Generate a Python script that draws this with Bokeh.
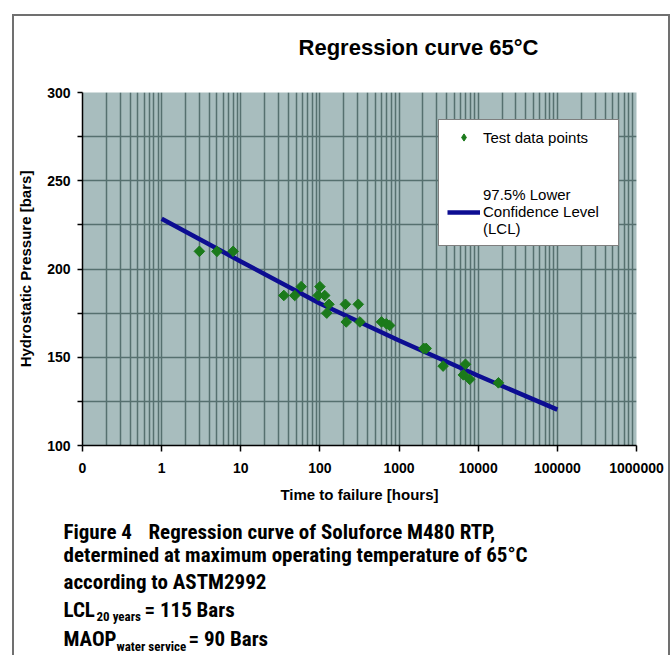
from bokeh.plotting import figure
from bokeh.layouts import column
from bokeh.models import Range1d, FixedTicker, Legend, LegendItem
from bokeh.core.properties import value
from bokeh.embed import file_html
from bokeh.resources import INLINE

# ---------------- data ----------------
test_hours = [3, 5, 8, 35, 48, 58, 95, 100, 115, 122, 130, 210, 215, 305, 320,
              600, 690, 760, 2050, 2200, 3600, 6500, 6900, 7800, 18000]
test_pressure = [210, 210, 210, 185, 185, 190, 185, 190, 185, 175, 180, 180, 170, 180, 170,
                 170, 169, 168, 155, 155, 145, 140, 146, 137.5, 135.5]

lcl_hours = [1, 10, 100, 1000, 10000, 100000]
lcl_pressure = [228.5, 204.3, 180.5, 159.5, 139.5, 120.3]

x_ticks = [0.1, 1, 10, 100, 1000, 10000, 100000, 1000000]
x_tick_labels = ["0", "1", "10", "100", "1000", "10000", "100000", "1000000"]
y_ticks = [100, 150, 200, 250, 300]
y_minor_ticks = [125, 175, 225, 275]

title_text = "Regression curve 65°C"
x_title = "Time to failure [hours]"
y_title = "Hydrostatic Pressure [bars]"
legend_labels = ["Test data points", "97.5% Lower\nConfidence Level\n(LCL)"]

# caption texts and their placement in the caption panel (pixels)
caption_x = [49, 134, 49, 49, 49, 82, 130, 49, 102, 174]
caption_y = [16, 16, 39, 66, 94, 101, 94, 123, 131, 123]
caption_text = ["Figure 4", "Regression curve of Soluforce M480 RTP,",
                "determined at maximum operating temperature of 65°C",
                "according to ASTM2992",
                "LCL", "20 years", "= 115 Bars",
                "MAOP", "water service", "= 90 Bars"]
caption_size = ["21px", "21px", "21px", "21px", "21px", "13px", "21px", "21px", "13px", "21px"]

# minor log ticks 2..9 in every decade
x_minor_ticks = []
for t in x_ticks[:-1]:
    for m in range(2, 10):
        x_minor_ticks.append(round(m * t, 6))

FONT = "Liberation Sans"
NARROW = "Roboto Condensed, DejaVu Sans Condensed, Liberation Sans"
GRID = "#56706f"
GREEN = "#1b7a1b"
W = 654

# ---- title panel ----
tfig = figure(width=W, height=50, x_range=Range1d(0, W), y_range=Range1d(50, 0),
              output_backend="svg", toolbar_location=None, frame_align=False,
              min_border=0, x_axis_location=None, y_axis_location=None,
              outline_line_color=None, background_fill_color="white", border_fill_color="white")
tfig.grid.visible = False
tfig.text(x=[404], y=[31], text=[title_text], text_font=value(FONT), text_font_style="bold",
          text_font_size=value("22px"), text_align="center", text_baseline="middle",
          text_color="black")

# ---- main chart ----
p = figure(width=W, height=449, x_axis_type="log",
           x_range=Range1d(0.1, 1e6), y_range=Range1d(100, 300),
           output_backend="svg", toolbar_location=None, frame_align=False,
           min_border_left=66, min_border_right=32, min_border_top=26, min_border_bottom=70,
           background_fill_color="#a8bdbe", border_fill_color="white",
           outline_line_color=None)

xt = FixedTicker(ticks=x_ticks, minor_ticks=x_minor_ticks)
yt = FixedTicker(ticks=y_ticks, minor_ticks=y_minor_ticks)
p.xaxis.ticker = xt
p.yaxis.ticker = yt
p.xgrid.ticker = xt
p.ygrid.ticker = yt
p.xaxis.major_label_overrides = {t: lab for t, lab in zip(x_ticks, x_tick_labels)}

for g in (p.xgrid, p.ygrid):
    g.grid_line_color = GRID
    g.grid_line_width = 1.5
    g.minor_grid_line_color = GRID
    g.minor_grid_line_width = 1.5

for ax in (p.xaxis, p.yaxis):
    ax.axis_line_color = "black"
    ax.axis_line_width = 1.5
    ax.major_tick_line_color = "black"
    ax.major_tick_line_width = 1.5
    ax.major_tick_in = 0
    ax.major_label_text_font = FONT
    ax.major_label_text_font_style = "bold"
    ax.major_label_text_font_size = "14px"
    ax.major_label_text_color = "black"
    ax.axis_label_text_font = FONT
    ax.axis_label_text_font_style = "bold"
    ax.axis_label_text_font_size = "15px"
    ax.axis_label_text_color = "black"

p.xaxis.major_tick_out = 6
p.xaxis.minor_tick_line_color = None
p.xaxis.major_label_standoff = 11
p.xaxis.axis_label = x_title
p.xaxis.axis_label_standoff = 10

p.yaxis.major_tick_out = 5
p.yaxis.minor_tick_in = 0
p.yaxis.minor_tick_out = 5
p.yaxis.minor_tick_line_color = "black"
p.yaxis.minor_tick_line_width = 1.5
p.yaxis.major_label_standoff = 7
p.yaxis.axis_label = y_title
p.yaxis.axis_label_standoff = 10

lcl = p.line(lcl_hours, lcl_pressure, line_color="#0d0d92", line_width=4.5)
# legend swatch: a diamond hidden under the first data point
pts_key = p.scatter(test_hours[:1], test_pressure[:1], marker="diamond", size=10,
                    fill_color=GREEN, line_color=GREEN)
pts = p.scatter(test_hours, test_pressure, marker="square", size=7.5, angle=45, angle_units="deg",
                fill_color=GREEN, line_color=GREEN)

legend = Legend(items=[LegendItem(label=legend_labels[0], renderers=[pts_key]),
                       LegendItem(label=legend_labels[1], renderers=[lcl])],
                location=(356, 199), margin=0, padding=8, spacing=40,
                glyph_width=33, glyph_height=18, label_standoff=3, label_width=127,
                label_text_font=FONT, label_text_font_size="15px", label_text_color="black",
                border_line_color="black", border_line_width=1.5,
                background_fill_color="white", background_fill_alpha=1.0)
p.add_layout(legend)

# ---- caption panel ----
cap = figure(width=W, height=140, x_range=Range1d(0, W), y_range=Range1d(140, 0),
             output_backend="svg", toolbar_location=None, frame_align=False,
             min_border=0, x_axis_location=None, y_axis_location=None,
             outline_line_color=None, background_fill_color="white", border_fill_color="white")
cap.grid.visible = False
for xx, yy, tt, ss in zip(caption_x, caption_y, caption_text, caption_size):
    cap.text(x=[xx], y=[yy], text=[tt], text_font=value(NARROW), text_font_style="bold",
             text_font_size=value(ss), text_baseline="middle", text_align="left",
             text_color="black")

layout = column(tfig, p, cap, margin=(14, 0, 0, 12), spacing=0,
                styles={"border-left": "2px solid #707070", "border-top": "2px solid #707070",
                        "border-right": "2px solid #707070"})

open("out.html", "w").write(file_html(layout, INLINE))
